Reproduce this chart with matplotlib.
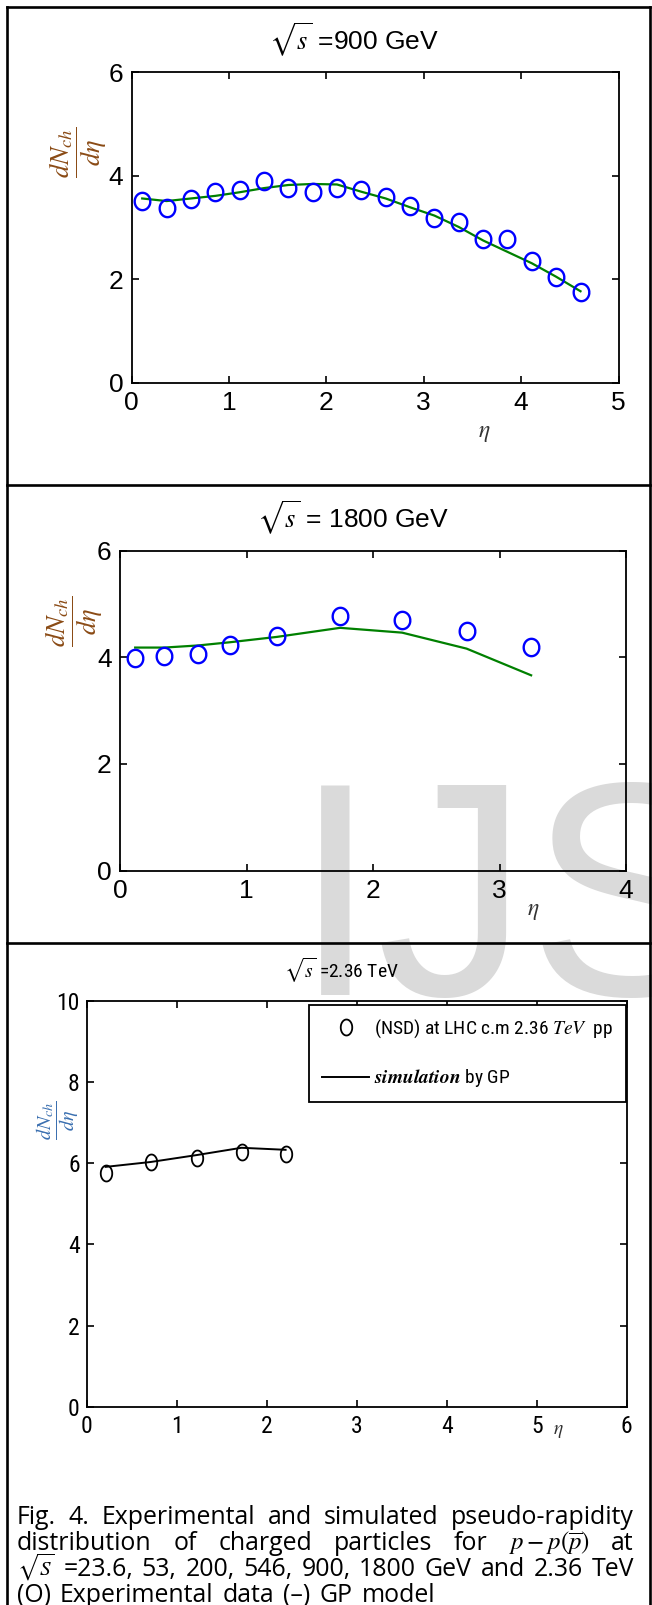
import numpy as np
import matplotlib
matplotlib.use('Agg')
import matplotlib.pyplot as plt
from matplotlib.path import Path
from matplotlib.lines import Line2D
from matplotlib import font_manager as fm

plt.rcParams['mathtext.fontset'] = 'stix'

W, H = 652, 1605

# ---------------- data ----------------
# Panel 1: sqrt(s) = 900 GeV
eta_900 = [0.11, 0.36, 0.61, 0.86, 1.11, 1.36, 1.61, 1.86, 2.11, 2.36,
           2.61, 2.86, 3.11, 3.36, 3.61, 3.86, 4.11, 4.36, 4.61]
data_900 = [3.51, 3.38, 3.55, 3.68, 3.72, 3.89, 3.76, 3.68, 3.76, 3.72,
            3.59, 3.42, 3.18, 3.10, 2.78, 2.77, 2.36, 2.04, 1.75]
sim_900 = [3.56, 3.51, 3.56, 3.61, 3.68, 3.76, 3.82, 3.84, 3.83, 3.69,
           3.56, 3.39, 3.23, 3.01, 2.75, 2.53, 2.31, 2.05, 1.77]

# Panel 2: sqrt(s) = 1800 GeV
eta_1800 = [0.12, 0.35, 0.62, 0.87, 1.24, 1.74, 2.23, 2.74, 3.25]
data_1800 = [3.98, 4.02, 4.06, 4.23, 4.39, 4.78, 4.70, 4.50, 4.19]
sim_1800 = [4.18, 4.18, 4.22, 4.28, 4.38, 4.55, 4.46, 4.16, 3.66]

# Panel 3: sqrt(s) = 2.36 TeV
eta_236 = [0.21, 0.71, 1.22, 1.72, 2.21]
data_236 = [5.76, 6.04, 6.14, 6.27, 6.22]
sim_236 = [5.91, 6.03, 6.20, 6.38, 6.33]

titles = [r'$\sqrt{s}$ =900 GeV', r'$\sqrt{s}$ = 1800 GeV', r'$\sqrt{s}$ =2.36 TeV']
legend_labels = [r'(NSD) at LHC c.m 2.36 $\mathit{TeV}$  pp',
                 r'$\mathbfit{simulation}$ by GP']
caption_lines = [
    ['Fig.', '4.', 'Experimental', 'and', 'simulated', 'pseudo-rapidity'],
    ['distribution', 'of', 'charged', 'particles', 'for', r'$p-p(\overline{p})$', 'at'],
    [r'$\sqrt{S}$', '=23.6,', '53,', '200,', '546,', '900,', '1800', 'GeV', 'and', '2.36', 'TeV'],
    ['(O)', 'Experimental', 'data', '(\u2013)', 'GP', 'model'],
]


def have(name):
    try:
        fm.findfont(fm.FontProperties(family=name), fallback_to_default=False)
        return True
    except Exception:
        return False


SANS = ['Liberation Sans', 'DejaVu Sans']
narrow_name = None
for cand in ['Liberation Sans Narrow', 'Arial Narrow', 'Nimbus Sans Narrow', 'Roboto Condensed']:
    if have(cand):
        narrow_name = cand
        break
if narrow_name:
    NARROW = [narrow_name, 'Liberation Sans', 'DejaVu Sans']
    nscale = 1.0
else:
    NARROW = SANS
    nscale = 0.84

fig = plt.figure(figsize=(W / 100, H / 100), dpi=100)
fig.patch.set_facecolor('white')


def fx(x):
    return x / W


def fy(y):
    return 1 - y / H


def px_axes(l, t, r, b):
    ax = fig.add_axes([fx(l), fy(b), (r - l) / W, (b - t) / H])
    ax.set_facecolor('none')
    return ax


th = np.linspace(0, 2 * np.pi, 61)
ell_wide = Path(np.column_stack([0.9 * np.cos(th), np.sin(th)]))
ell_narrow = Path(np.column_stack([0.72 * np.cos(th), np.sin(th)]))

# watermark
fig.text(fx(293), fy(995), 'IJSER', fontsize=219, color='#dadada',
         family=SANS, ha='left', va='baseline', zorder=-10)

# frame lines
frame_kw = dict(color='black', lw=1.9, transform=fig.transFigure, solid_capstyle='projecting')
fig.add_artist(Line2D([fx(7), fx(7)], [fy(7), fy(1605)], **frame_kw))
fig.add_artist(Line2D([fx(650), fx(650)], [fy(7), fy(1605)], **frame_kw))
for yy in (7, 485, 943):
    fig.add_artist(Line2D([fx(7), fx(650)], [fy(yy), fy(yy)], **frame_kw))


def style(ax, fam, size, pad_x, pad_y):
    for s in ax.spines.values():
        s.set_linewidth(1.3)
    ax.tick_params(direction='in', top=True, right=True, length=5, width=1.2)
    ax.tick_params(axis='x', pad=pad_x)
    ax.tick_params(axis='y', pad=pad_y)
    for lab in ax.get_xticklabels() + ax.get_yticklabels():
        lab.set_family(fam)
        lab.set_fontsize(size)


LBL_BROWN = '#8a4a14'

# ---------------- panel 1 ----------------
ax1 = px_axes(131.5, 72, 618.5, 383)
ax1.plot(eta_900, sim_900, color='#008000', lw=1.6, zorder=2)
ax1.plot(eta_900, data_900, ls='none', marker=ell_wide, ms=12.5, mfc='none',
         mec='#0000ff', mew=1.7, zorder=3)
ax1.set_xlim(0, 5)
ax1.set_ylim(0, 6)
ax1.set_xticks([0, 1, 2, 3, 4, 5])
ax1.set_yticks([0, 2, 4, 6])
style(ax1, SANS, 19, 6, 6)
fig.text(fx(354), fy(40), titles[0], ha='center', va='center', fontsize=19, family=SANS)
fig.text(fx(78), fy(152), r'$\dfrac{dN_{ch}}{d\eta}$', rotation=90, ha='center',
         va='center', fontsize=19, color=LBL_BROWN)
fig.text(fx(484), fy(432), r'$\eta$', ha='center', va='center', fontsize=17, color='#333333')

# ---------------- panel 2 ----------------
ax2 = px_axes(120, 550.5, 626, 870.5)
ax2.plot(eta_1800, sim_1800, color='#008000', lw=1.6, zorder=2)
ax2.plot(eta_1800, data_1800, ls='none', marker=ell_wide, ms=12.5, mfc='none',
         mec='#0000ff', mew=1.7, zorder=3)
ax2.set_xlim(0, 4)
ax2.set_ylim(0, 6)
ax2.set_xticks([0, 1, 2, 3, 4])
ax2.set_yticks([0, 2, 4, 6])
style(ax2, SANS, 19, 6, 6)
fig.text(fx(353), fy(518), titles[1], ha='center', va='center', fontsize=19, family=SANS)
fig.text(fx(74), fy(621), r'$\dfrac{dN_{ch}}{d\eta}$', rotation=90, ha='center',
         va='center', fontsize=19, color=LBL_BROWN)
fig.text(fx(533), fy(910), r'$\eta$', ha='center', va='center', fontsize=17, color='#333333')

# ---------------- panel 3 ----------------
ax3 = px_axes(86.7, 1000.7, 626.7, 1407)
ax3.plot(eta_236, sim_236, color='black', lw=1.4, zorder=2, label=legend_labels[1])
ax3.plot(eta_236, data_236, ls='none', marker=ell_narrow, ms=11.5, mfc='none',
         mec='black', mew=1.3, zorder=3, label=legend_labels[0])
ax3.set_xlim(0, 6)
ax3.set_ylim(0, 10)
ax3.set_xticks([0, 1, 2, 3, 4, 5, 6])
ax3.set_yticks([0, 2, 4, 6, 8, 10])
style(ax3, NARROW, 17 * nscale, 6, 5)
fig.text(fx(341), fy(970), titles[2], ha='center', va='center', fontsize=14 * nscale, family=NARROW)
fig.text(fx(58), fy(1120), r'$\dfrac{dN_{ch}}{d\eta}$', rotation=90, ha='center',
         va='center', fontsize=14.5, color='#3a6fb0')
fig.text(fx(558), fy(1431), r'$\eta$', ha='center', va='center', fontsize=14, color='#333333')

h, l = ax3.get_legend_handles_labels()
leg = ax3.legend(h[::-1], l[::-1], loc='upper right', bbox_to_anchor=(fx(626), fy(1005)),
                 bbox_transform=fig.transFigure, borderaxespad=0, frameon=True,
                 fancybox=False, edgecolor='black', framealpha=1,
                 prop={'family': NARROW, 'size': 14 * nscale}, handlelength=2.45,
                 handletextpad=0.25, labelspacing=1.4, borderpad=0.65)
leg.get_frame().set_linewidth(1.3)

# ---------------- caption (justified) ----------------
fig.canvas.draw()
renderer = fig.canvas.get_renderer()
CAP = ['Open Sans', 'Lato', 'DejaVu Sans']
x_left, x_right = 17, 634
last_gap = 9.0
last_line_right = 434


def word_widths(words, size):
    objs = [fig.text(0, 0, w, fontsize=size * (0.85 if w.startswith(r'$\sqrt') else 1.0),
                     family=CAP) for w in words]
    ws = [o.get_window_extent(renderer).width for o in objs]
    for o in objs:
        o.remove()
    return ws


# size from last (unjustified) line, capped so the first line still fits
s4 = 20 * (last_line_right - x_left - last_gap * 5) / sum(word_widths(caption_lines[3], 20))
s1 = 20 * (x_right - x_left - 8.0 * 5) / sum(word_widths(caption_lines[0], 20))
cap_size = min(s4, s1, 18.5)

baselines = [1524, 1550, 1576, 1602]
for i, (words, yb) in enumerate(zip(caption_lines, baselines)):
    objs = []
    for w in words:
        size = cap_size * (0.85 if w.startswith(r'$\sqrt') else 1.0)
        objs.append(fig.text(0, fy(yb), w, fontsize=size, family=CAP, ha='left',
                             va='baseline'))
    widths = [o.get_window_extent(renderer).width for o in objs]
    if i < len(caption_lines) - 1:
        gap = (x_right - x_left - sum(widths)) / (len(words) - 1)
    else:
        gap = last_gap
    x = x_left
    for o, wdt in zip(objs, widths):
        o.set_x(fx(x))
        x += wdt + gap

fig.savefig('out.png', dpi=100, facecolor='white')
